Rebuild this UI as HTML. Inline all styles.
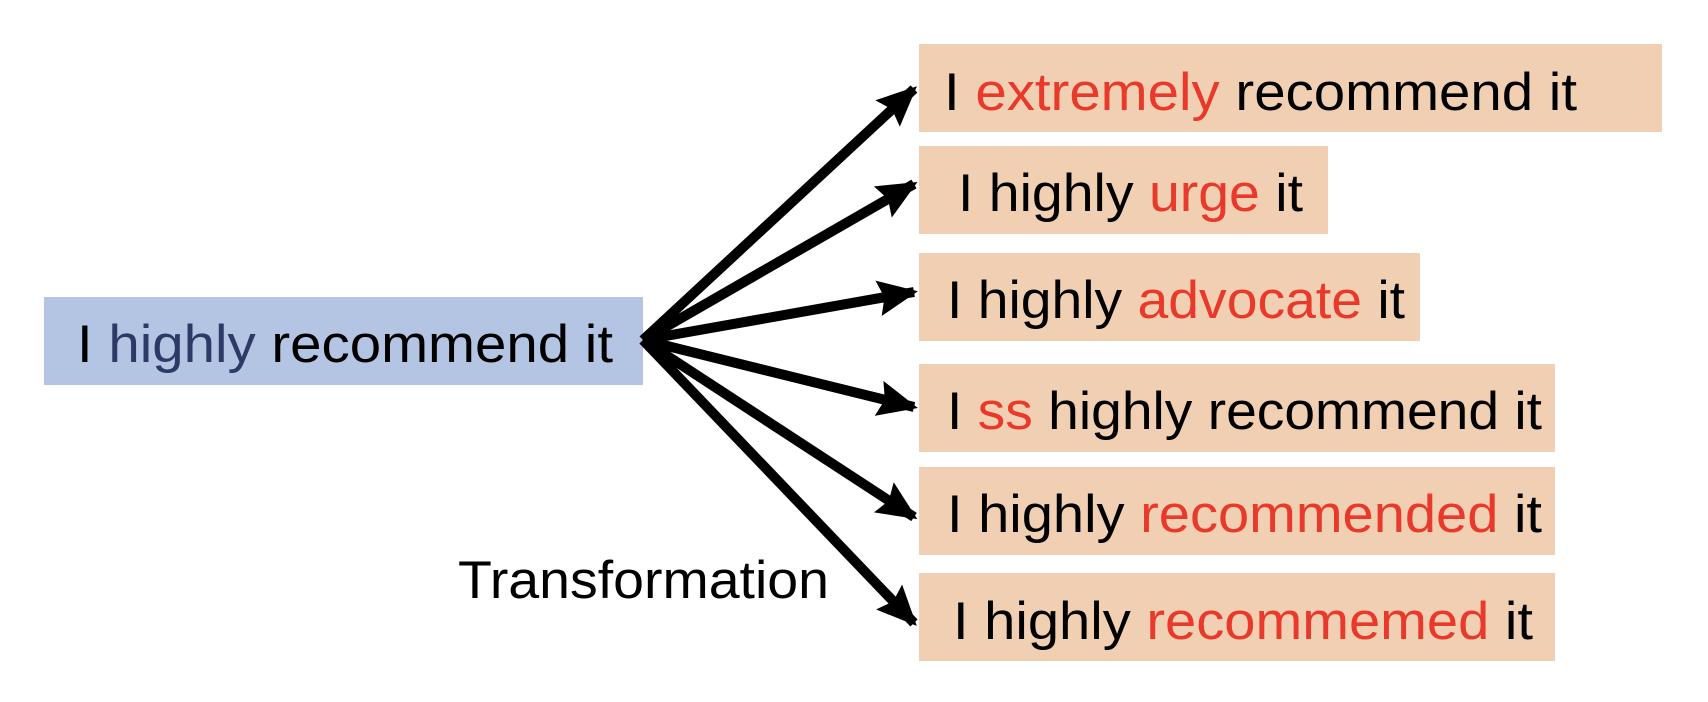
<!DOCTYPE html>
<html><head><meta charset="utf-8"><style>html,body{margin:0;padding:0;background:#fff}svg{display:block}</style></head>
<body>
<svg width="1708" height="702" viewBox="0 0 1708 702" xmlns="http://www.w3.org/2000/svg" font-family="Liberation Sans, sans-serif" font-size="53">
<defs>
<marker id="a" markerWidth="4" markerHeight="3.6" refX="3.6" refY="1.8" orient="auto" markerUnits="strokeWidth">
<path d="M0,0 L4,1.8 L0,3.6 L0.6,1.8 Z" fill="#000"/>
</marker>
</defs>
<rect x="44" y="297" width="599" height="88" fill="#b4c5e4"/>
<rect x="919" y="44" width="743" height="88" fill="#f1cfb2"/>
<rect x="919" y="146" width="409" height="88" fill="#f1cfb2"/>
<rect x="919" y="253" width="501" height="88" fill="#f1cfb2"/>
<rect x="919" y="364" width="636" height="88" fill="#f1cfb2"/>
<rect x="919" y="467" width="636" height="88" fill="#f1cfb2"/>
<rect x="919" y="573" width="636" height="88" fill="#f1cfb2"/>
<g stroke="#000" stroke-width="10" fill="none" marker-end="url(#a)">
<line x1="643" y1="340" x2="914" y2="89"/>
<line x1="643" y1="340" x2="914" y2="184"/>
<line x1="643" y1="340" x2="914" y2="292"/>
<line x1="643" y1="340" x2="914" y2="407"/>
<line x1="643" y1="340" x2="914" y2="517"/>
<line x1="643" y1="340" x2="914" y2="623"/>
</g>
<text x="77" y="362" textLength="536" lengthAdjust="spacingAndGlyphs">I <tspan fill="#2e3a66">highly</tspan> recommend it</text>
<text x="944" y="110" textLength="633" lengthAdjust="spacingAndGlyphs">I <tspan fill="#e8392b">extremely</tspan> recommend it</text>
<text x="958" y="211" textLength="345" lengthAdjust="spacingAndGlyphs">I highly <tspan fill="#e8392b">urge</tspan> it</text>
<text x="947" y="318" textLength="458" lengthAdjust="spacingAndGlyphs">I highly <tspan fill="#e8392b">advocate</tspan> it</text>
<text x="947" y="429" textLength="595" lengthAdjust="spacingAndGlyphs">I <tspan fill="#e8392b">ss</tspan> highly recommend it</text>
<text x="947" y="532" textLength="595" lengthAdjust="spacingAndGlyphs">I highly <tspan fill="#e8392b">recommended</tspan> it</text>
<text x="953" y="639" textLength="580" lengthAdjust="spacingAndGlyphs">I highly <tspan fill="#e8392b">recommemed</tspan> it</text>
<text x="458" y="598" textLength="371" lengthAdjust="spacingAndGlyphs">Transformation</text>
</svg>
</body></html>
